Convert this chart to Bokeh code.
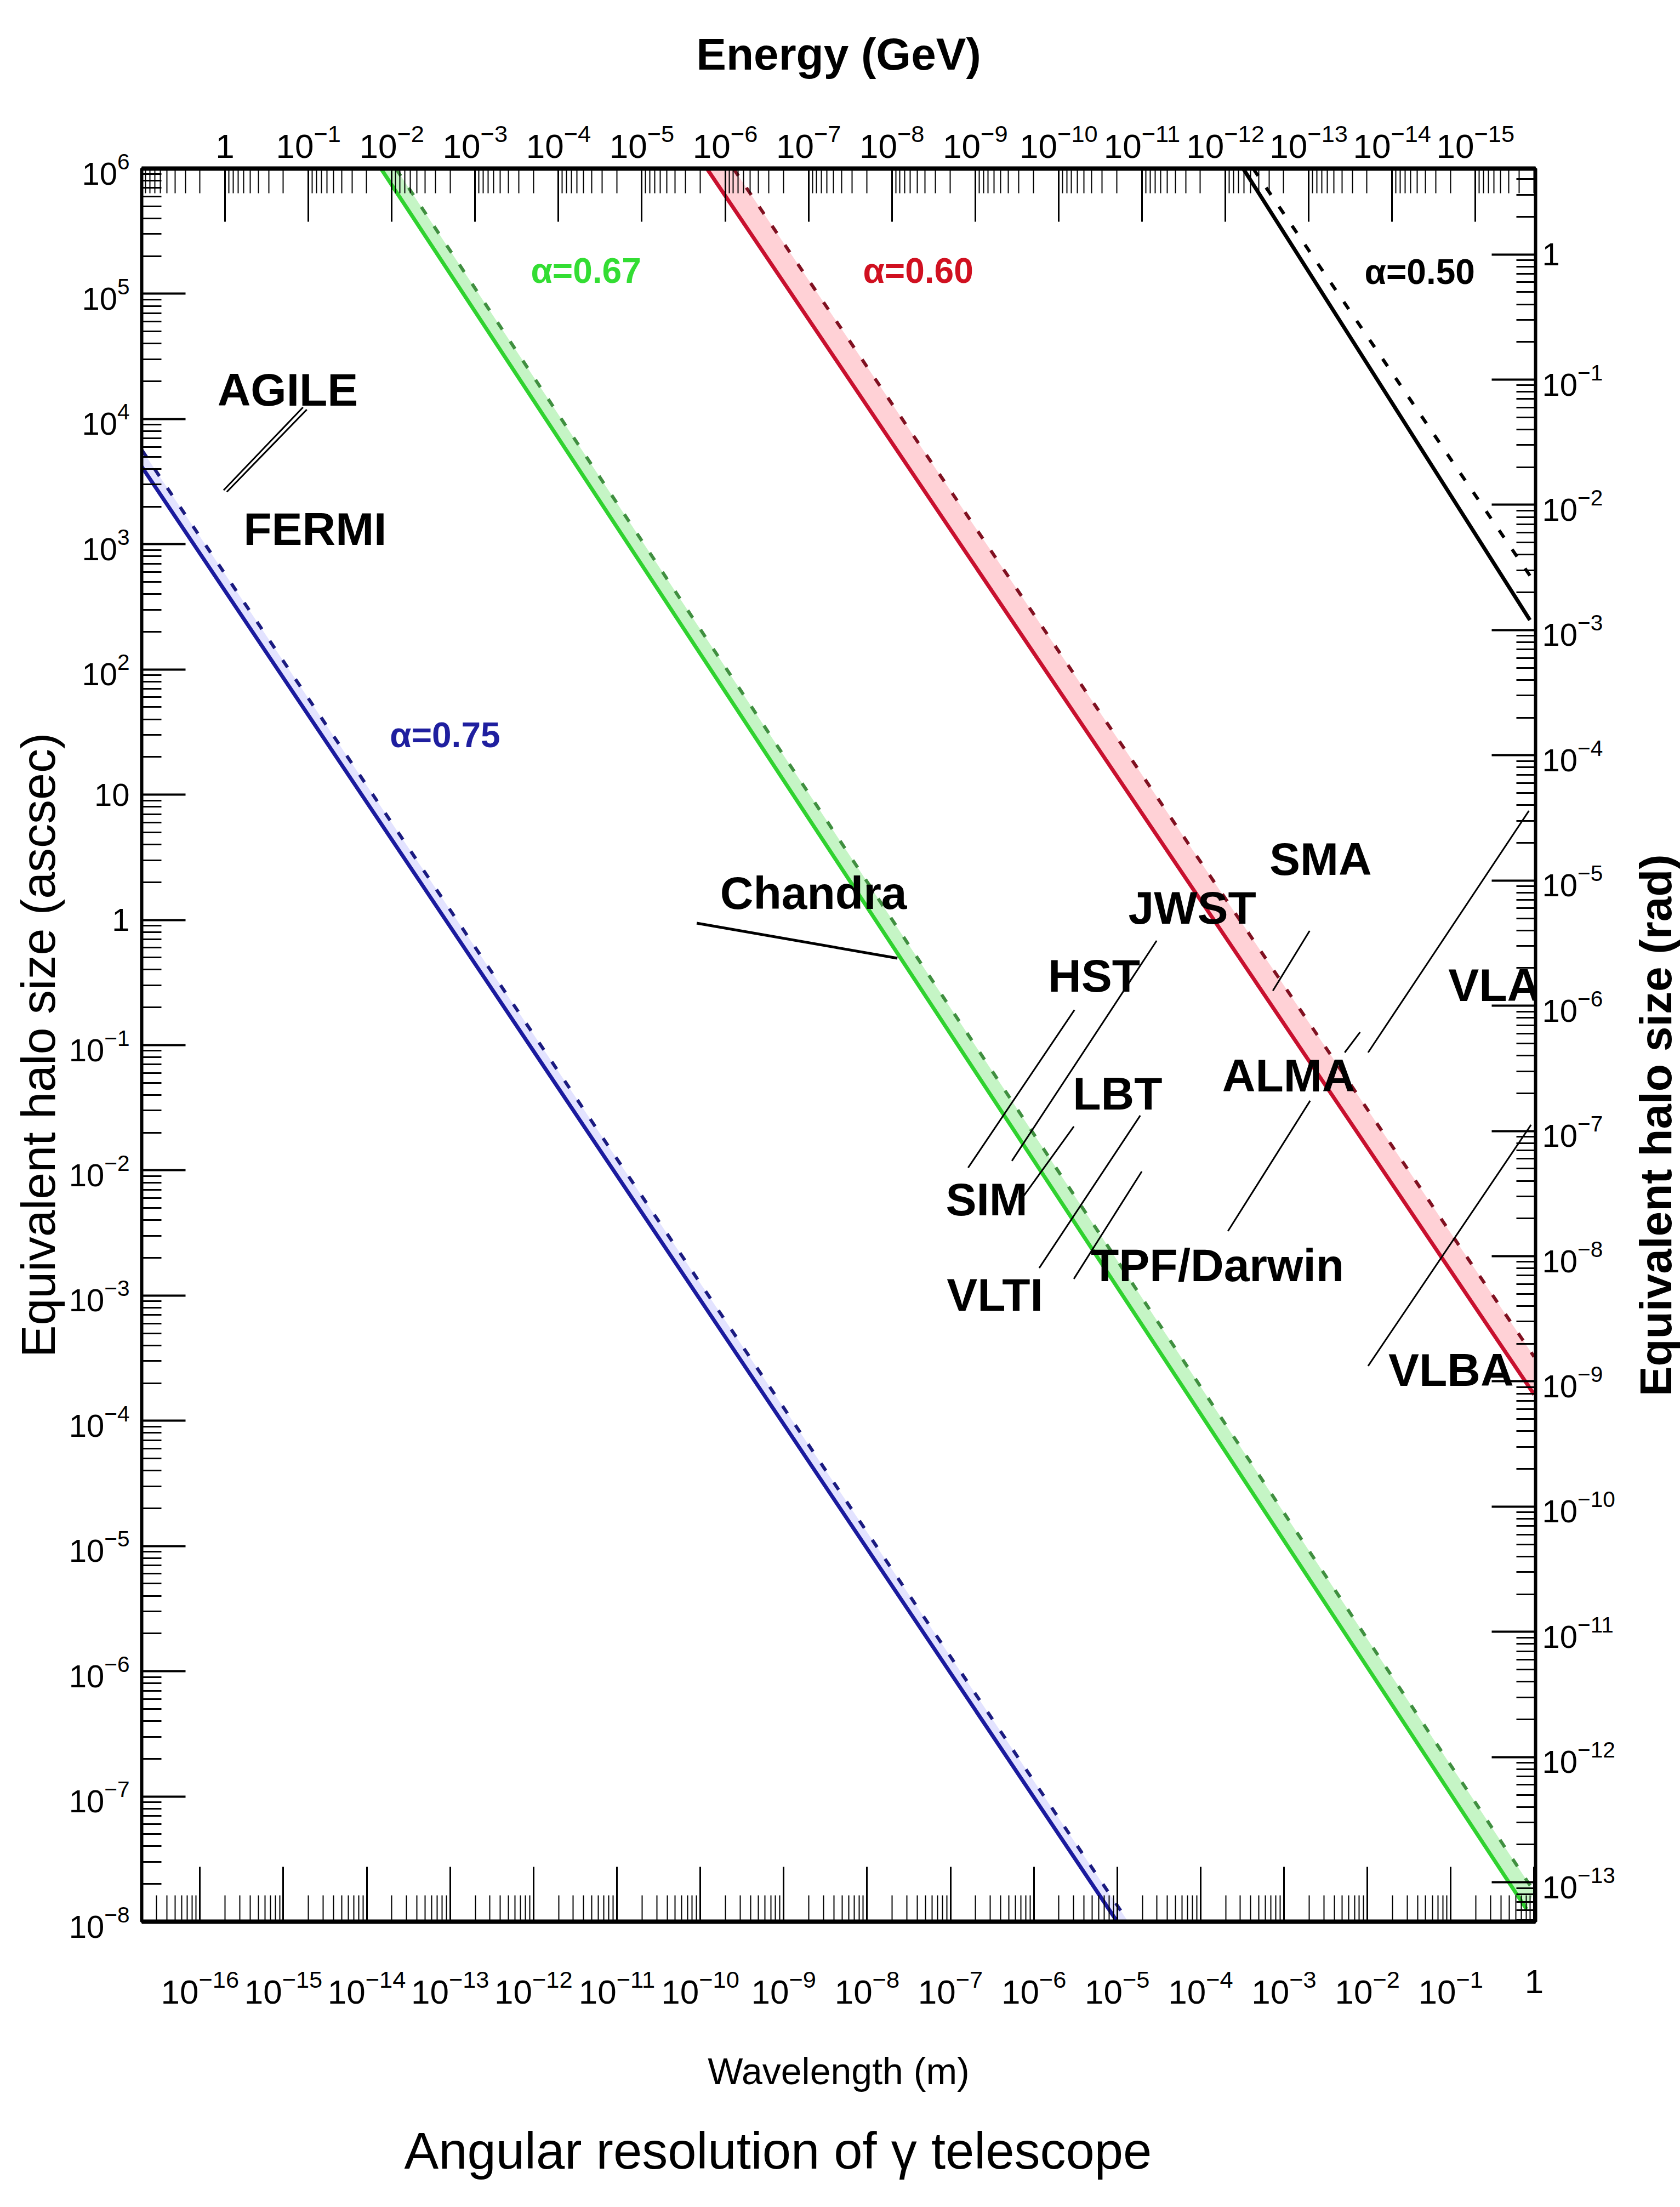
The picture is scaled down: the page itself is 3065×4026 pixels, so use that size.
import math
from bokeh.plotting import figure
from bokeh.layouts import row
from bokeh.models import Range1d, LogAxis, LogScale, FixedTicker, ColumnDataSource, Title
from bokeh.core.properties import value
from bokeh.embed import file_html
from bokeh.resources import INLINE

FONT = "Liberation Sans"

# ---------------- axis ranges ----------------
wavelength_range = (2.0e-17, 1.04)        # m  (bottom axis)
halo_range_arcsec = (1e-8, 1e6)           # arcsec (left axis)
energy_range = (10.0, 1.9e-16)            # GeV (top axis, decreasing)
arcsec_per_rad = 206265.0                 # right axis in rad

wl_ticks = [10.0 ** n for n in range(-16, 1)]
halo_ticks = [10.0 ** n for n in range(-8, 7)]
energy_ticks = [10.0 ** n for n in range(-15, 1)]
rad_ticks = [10.0 ** n for n in range(-13, 1)]

# ---------------- series (endpoints: wavelength [m], halo size [arcsec]) ----------------
blue_solid_wl = [2.0e-17, 1.0e-5]
blue_solid_halo = [4170.0, 1e-8]
blue_dash_wl = [2.0e-17, 1.35e-5]
blue_dash_halo = [5690.0, 1e-8]

green_solid_wl = [1.48e-14, 0.81]
green_solid_halo = [1e6, 1.26e-8]
green_dash_wl = [2.24e-14, 1.0]
green_dash_halo = [1e6, 1.74e-8]

red_solid_wl = [1.2e-10, 1.0]
red_solid_halo = [1e6, 1.62e-4]
red_dash_wl = [2.5e-10, 1.0]
red_dash_halo = [1e6, 3.24e-4]

black_solid_wl = [3.24e-4, 0.89]
black_solid_halo = [1e6, 248.0]
black_dash_wl = [4.27e-4, 1.0]
black_dash_halo = [1e6, 501.0]

# ---------------- annotations ----------------
alpha_text = ["α=0.75", "α=0.67", "α=0.60", "α=0.50"]
alpha_wl = [8.69e-14, 4.26e-12, 4.10e-8, 4.25e-2]
alpha_halo = [29.9, 1.52e5, 1.52e5, 1.49e5]
alpha_color = ["#1f1f9f", "#33dd33", "#d01020", "#000000"]

tel_names = ["AGILE", "FERMI", "Chandra", "JWST", "SMA", "HST", "LBT", "ALMA",
             "VLA", "SIM", "VLTI", "TPF/Darwin", "VLBA"]
tel_wl = [1.13e-15, 2.40e-15, 2.28e-9, 7.94e-5, 2.75e-3, 5.28e-6, 1.01e-5, 1.14e-3,
          0.333, 2.72e-7, 3.41e-7, 1.59e-4, 0.1007]
tel_halo = [1.71e4, 1318.0, 1.64, 1.25, 3.06, 0.358, 0.0410, 0.0571,
            0.301, 5.86e-3, 1.01e-3, 1.75e-3, 2.55e-4]

lead_x0 = [1.72e-15, 1.91e-15, 3.07e-6, 2.97e-5, 3.02e-6, 1.89e-5, 1.97e-5, 2.03e-3, 0.865, 8.17e-3, 2.06e-3, 0.918]
lead_y0 = [1.24e4, 1.19e4, 0.191, 0.682, 2.24e-2, 2.74e-2, 9.80e-3, 0.818, 7.43, 0.127, 3.60e-2, 2.31e-2]
lead_x1 = [1.92e-16, 2.10e-16, 1.63e-7, 5.46e-7, 7.62e-7, 1.16e-6, 3.02e-6, 7.36e-4, 1.02e-2, 5.35e-3, 2.13e-4, 1.02e-2]
lead_y1 = [2.70e3, 2.62e3, 1.05e-2, 1.19e-2, 6.30e-3, 1.66e-3, 1.36e-3, 0.272, 8.73e-2, 8.73e-2, 3.27e-3, 2.74e-4]
chandra_lead_wl = [9.06e-11, 2.31e-8]
chandra_lead_halo = [0.942, 0.494]

right_title = "Equivalent halo size (rad)"
right_title_halo = 2.29e-2     # centre of the right title, on the arcsec scale

# ---------------- main figure ----------------
MAIN_W, SIDE_W, H = 2975, 90, 4026
p = figure(width=MAIN_W, height=H, x_axis_type="log", y_axis_type="log",
           x_range=Range1d(*wavelength_range), y_range=Range1d(*halo_range_arcsec),
           output_backend="svg", toolbar_location=None,
           min_border_left=258, min_border_right=174, min_border_top=307, min_border_bottom=521)
p.xgrid.visible = False
p.ygrid.visible = False
p.background_fill_color = "white"
p.border_fill_color = "white"
p.outline_line_color = "black"
p.outline_line_width = 5

p.extra_x_ranges = {"energy": Range1d(*energy_range)}
p.extra_x_scales = {"energy": LogScale()}
p.extra_y_ranges = {"rad": Range1d(halo_range_arcsec[0] / arcsec_per_rad, halo_range_arcsec[1] / arcsec_per_rad)}
p.extra_y_scales = {"rad": LogScale()}


def minor_list(lo, hi):
    out = []
    for n in range(-20, 8):
        for k in range(2, 10):
            v = k * 10.0 ** n
            if lo <= v <= hi:
                out.append(v)
    return out


def style_axis(ax, size, tick_len, minor_len, line_w, tick_w, minor_w, standoff,
               title, title_size, title_style, title_standoff):
    ax.axis_line_width = line_w
    ax.axis_line_color = "black"
    ax.major_tick_in = tick_len
    ax.major_tick_out = 0
    ax.minor_tick_in = minor_len
    ax.minor_tick_out = 0
    ax.major_tick_line_width = tick_w
    ax.minor_tick_line_width = minor_w
    ax.major_tick_line_color = "black"
    ax.minor_tick_line_color = "black"
    ax.major_label_text_font = FONT
    ax.major_label_text_font_size = f"{size}px"
    ax.major_label_text_color = "black"
    ax.major_label_standoff = standoff
    ax.axis_label = title
    ax.axis_label_text_font = FONT
    ax.axis_label_text_font_size = f"{title_size}px"
    ax.axis_label_text_font_style = title_style
    ax.axis_label_text_color = "black"
    ax.axis_label_standoff = title_standoff


bottom = p.xaxis[0]
bottom.ticker = FixedTicker(ticks=wl_ticks, minor_ticks=minor_list(*wavelength_range))
style_axis(bottom, 62, 100, 48, 8, 3, 2, 88, "Wavelength (m)", 68, "normal", 82)
bottom.major_label_overrides = {1: "1"}

left = p.yaxis[0]
left.ticker = FixedTicker(ticks=halo_ticks, minor_ticks=minor_list(*halo_range_arcsec))
style_axis(left, 58, 80, 36, 6, 4, 3, 22, "Equivalent halo size (ascsec)", 88, "normal", 4)
left.major_label_overrides = {1: "1", 10: "10"}

top = LogAxis(x_range_name="energy")
top.ticker = FixedTicker(ticks=energy_ticks, minor_ticks=minor_list(energy_range[1], energy_range[0]))
style_axis(top, 62, 97, 45, 8, 3, 2, 20, "Energy (GeV)", 82, "bold", 80)
top.major_label_overrides = {1: "1"}
p.add_layout(top, "above")

right = LogAxis(y_range_name="rad")
right.ticker = FixedTicker(ticks=rad_ticks,
                           minor_ticks=minor_list(halo_range_arcsec[0] / arcsec_per_rad,
                                                  halo_range_arcsec[1] / arcsec_per_rad))
style_axis(right, 58, 80, 35, 6, 4, 3, 12, None, 10, "bold", 0)
right.major_label_overrides = {1: "1"}
p.add_layout(right, "right")

subtitle = Title(text="Angular resolution of γ telescope", align="left", offset=479,
                 text_font=FONT, text_font_size="94px", text_font_style="normal",
                 text_color="black", standoff=100)
p.add_layout(subtitle, "below")

# ---------------- bands ----------------
bands = [
    (blue_solid_wl, blue_solid_halo, blue_dash_wl, blue_dash_halo, "#dcdcff"),
    (green_solid_wl, green_solid_halo, green_dash_wl, green_dash_halo, "#b6f2b6"),
    (red_solid_wl, red_solid_halo, red_dash_wl, red_dash_halo, "#ffc6cc"),
]
for sw, sh, dw, dh, col in bands:
    p.patch(x=sw + dw[::-1], y=sh + dh[::-1], fill_color=col, fill_alpha=0.8, line_color=None)

# ---------------- lines ----------------
DASH = "16 26"
LW = 7
p.line(blue_solid_wl, blue_solid_halo, line_color="#1a1a9e", line_width=LW)
p.line(blue_dash_wl, blue_dash_halo, line_color="#1a1a80", line_width=LW - 1, line_dash=DASH)
p.line(green_solid_wl, green_solid_halo, line_color="#2fd22f", line_width=LW)
p.line(green_dash_wl, green_dash_halo, line_color="#3f8f3f", line_width=LW - 1, line_dash=DASH)
p.line(red_solid_wl, red_solid_halo, line_color="#c8102e", line_width=LW)
p.line(red_dash_wl, red_dash_halo, line_color="#801020", line_width=LW - 1, line_dash=DASH)
p.line(black_solid_wl, black_solid_halo, line_color="black", line_width=LW)
p.line(black_dash_wl, black_dash_halo, line_color="black", line_width=LW - 1, line_dash=DASH)

# ---------------- leader lines ----------------
p.segment(x0=lead_x0, y0=lead_y0, x1=lead_x1, y1=lead_y1, line_color="black", line_width=3)
p.line(chandra_lead_wl, chandra_lead_halo, line_color="black", line_width=5)

# ---------------- texts ----------------
tel_src = ColumnDataSource(dict(x=tel_wl, y=tel_halo, t=tel_names))
p.text(x="x", y="y", text="t", source=tel_src, text_font=value(FONT), text_font_style="bold",
       text_font_size="84px", text_align="center", text_baseline="middle", text_color="black")

alpha_src = ColumnDataSource(dict(x=alpha_wl, y=alpha_halo, t=alpha_text, c=alpha_color))
p.text(x="x", y="y", text="t", source=alpha_src, text_font=value(FONT), text_font_style="bold",
       text_font_size="64px", text_align="center", text_baseline="middle", text_color="c")

# ---------------- side strip carrying the right-hand axis title ----------------
side = figure(width=SIDE_W, height=H, y_axis_type="log",
              x_range=Range1d(0, 1), y_range=Range1d(*halo_range_arcsec),
              output_backend="svg", toolbar_location=None,
              x_axis_location=None, y_axis_location=None,
              min_border_left=0, min_border_right=0, min_border_top=307, min_border_bottom=521)
side.xgrid.visible = False
side.ygrid.visible = False
side.outline_line_color = None
side.background_fill_color = "white"
side.border_fill_color = "white"
side_src = ColumnDataSource(dict(x=[0.5], y=[right_title_halo], t=[right_title]))
side.text(x="x", y="y", text="t", source=side_src, angle=math.pi / 2,
          text_font=value(FONT), text_font_style="bold", text_font_size="82px",
          text_align="center", text_baseline="middle", text_color="black")

layout = row(p, side, spacing=0)
open("out.html", "w").write(file_html(layout, INLINE))
